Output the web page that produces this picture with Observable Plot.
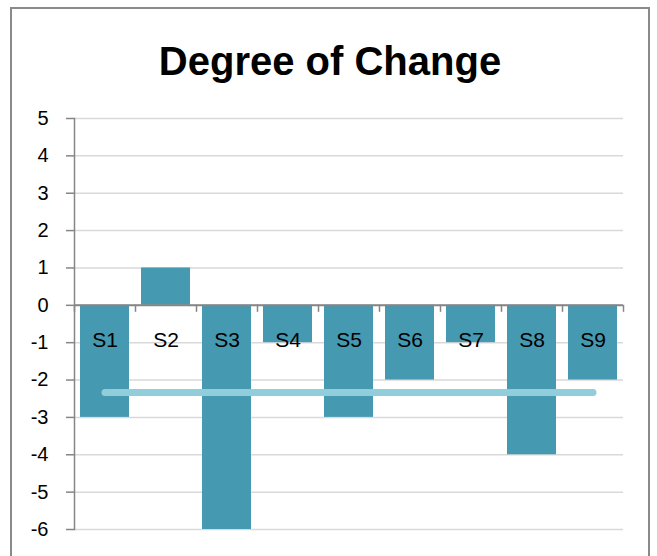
<!DOCTYPE html>
<html>
<head>
<meta charset="utf-8">
<script src="https://cdn.jsdelivr.net/npm/d3@7"></script>
<script src="https://cdn.jsdelivr.net/npm/@observablehq/plot@0.6"></script>
<style>
  body { margin: 0; background: #fff; font-family: "Liberation Sans", Arial, sans-serif; }
  #wrap { position: relative; width: 657px; height: 556px; overflow: hidden; background: #fff; }
  #frame { position: absolute; left: 10px; top: 7px; width: 640px; height: 600px; border: 2px solid #8a8a8a; box-sizing: border-box; }
  #title { position: absolute; left: 0; top: 41px; width: 660px; text-align: center; font: bold 40px/40px "Liberation Sans", Arial, sans-serif; color: #000; }
  #chart { position: absolute; left: 0; top: 0; }
</style>
</head>
<body>
<div id="wrap">
  <div id="frame"></div>
  <div id="title">Degree of Change</div>
  <div id="chart"></div>
</div>
<script>
const categories = ["S1", "S2", "S3", "S4", "S5", "S6", "S7", "S8", "S9"];
const values = [-3, 1, -6, -1, -3, -2, -1, -4, -2];
const yTicks = [-6, -5, -4, -3, -2, -1, 0, 1, 2, 3, 4, 5];

const data = categories.map((c, i) => ({cat: c, value: values[i]}));
const avg = d3.mean(values);
const avgLine = [categories[0], categories[categories.length - 1]].map(c => ({cat: c, value: avg}));

const chart = Plot.plot({
  width: 657,
  height: 556,
  marginTop: 118,
  marginBottom: 27,
  marginLeft: 74,
  marginRight: 34,
  style: {fontFamily: "Liberation Sans, Arial, sans-serif", color: "#000", background: "transparent"},
  x: {domain: categories, paddingInner: 0.2, paddingOuter: 0.1, axis: null},
  y: {domain: [-6, 5], axis: null},
  marks: [
    Plot.gridY(yTicks, {stroke: "#d9d9d9", strokeOpacity: 1, strokeWidth: 1.5}),
    Plot.barY(data, {x: "cat", y: "value", fill: "#4599b1"}),
    Plot.ruleY([0], {stroke: "#868686", strokeWidth: 2}),
    Plot.ruleX(categories, {x: d => d, dx: -30.5, y1: 0, y2: 0, insetBottom: -7, stroke: "#868686", strokeWidth: 1.5}),
    Plot.ruleX([categories[categories.length - 1]], {x: d => d, dx: 30.5, y1: 0, y2: 0, insetBottom: -7, stroke: "#868686", strokeWidth: 1.5}),
    Plot.frame({anchor: "left", stroke: "#868686", strokeWidth: 1.5}),
    Plot.axisY(yTicks, {label: null, tickSize: 8, tickPadding: 18, fontSize: 20, stroke: "#868686", strokeWidth: 1.5, tickFormat: d => d < 0 ? "-" + Math.abs(d) : String(d)}),
    Plot.line(avgLine, {x: "cat", y: "value", stroke: "#92cddc", strokeWidth: 7, strokeLinecap: "round"}),
    Plot.text(data, {x: "cat", y: 0, dy: 35, text: "cat", fontSize: 21, fill: "#000"})
  ]
});
document.getElementById("chart").appendChild(chart);
</script>
</body>
</html>
